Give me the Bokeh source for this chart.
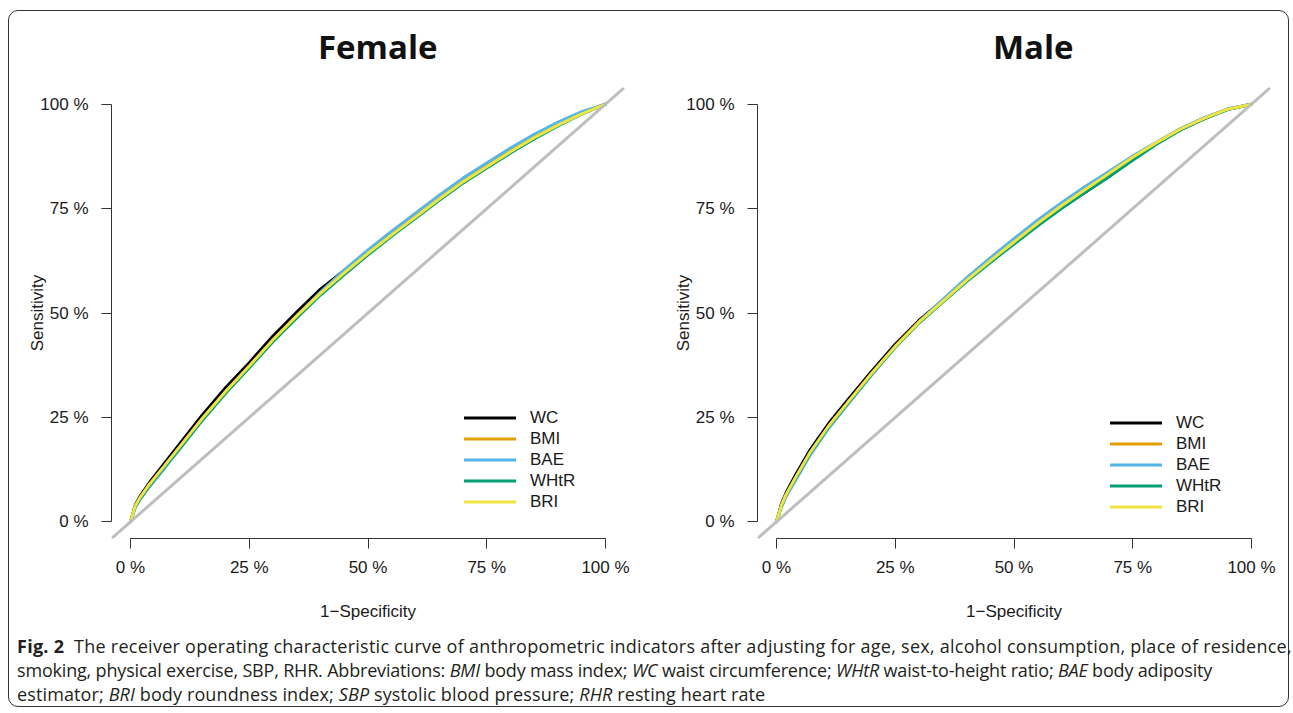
from bokeh.plotting import figure
from bokeh.models import Range1d, FixedTicker, Slope, Legend, LegendItem, Div, Column, Row
from bokeh.embed import file_html
from bokeh.resources import INLINE

PANELS = ["Female", "Male"]
SERIES = ["WC", "BMI", "BAE", "WHtR", "BRI"]
COLORS = ["#000000", "#E69F00", "#56B4E9", "#009E73", "#F0E442"]
TICKS = [0, 25, 50, 75, 100]
TICK_LABELS = ["0 %", "25 %", "50 %", "75 %", "100 %"]
X_LABEL = "1\u2212Specificity"
Y_LABEL = "Sensitivity"

# 1 - specificity (%)
FPR = [0, 1, 2, 4, 7, 11, 15, 20, 25, 30, 35, 40, 45, 50, 55, 60, 65, 70, 75, 80, 85, 90, 95, 100]

# Sensitivity (%), Female
female_WC   = [0, 4.0, 6.1, 9.4, 13.8, 19.6, 25.4, 32.1, 38.1, 44.5, 50.2, 55.7, 60.2, 64.6, 69.1, 73.5, 77.8, 81.8, 85.3, 88.9, 92.3, 95.2, 97.8, 100]
female_BMI  = [0, 3.7, 5.7, 8.9, 13.1, 18.8, 24.5, 31.1, 37.2, 43.5, 49.3, 54.9, 60.0, 64.9, 69.4, 73.7, 78.0, 82.0, 85.6, 89.2, 92.5, 95.4, 98.0, 100]
female_BAE  = [0, 3.4, 5.3, 8.4, 12.6, 18.3, 24.1, 30.8, 37.0, 43.4, 49.3, 55.0, 60.3, 65.1, 69.6, 73.9, 78.2, 82.3, 85.9, 89.5, 92.8, 95.7, 98.2, 100]
female_WHtR = [0, 3.6, 5.5, 8.7, 12.9, 18.5, 24.2, 30.8, 36.9, 43.1, 48.8, 54.3, 59.2, 63.9, 68.4, 72.7, 77.0, 81.1, 84.7, 88.3, 91.7, 94.8, 97.6, 100]
female_BRI  = [0, 3.8, 5.8, 9.0, 13.2, 18.9, 24.6, 31.2, 37.3, 43.6, 49.3, 54.7, 59.6, 64.3, 68.7, 73.0, 77.3, 81.4, 85.0, 88.6, 92.0, 95.0, 97.7, 100]

# Sensitivity (%), Male
male_WC   = [0, 4.1, 6.9, 11.2, 17.1, 23.6, 29.2, 36.0, 42.5, 48.2, 53.0, 58.0, 62.8, 67.5, 71.8, 75.3, 78.9, 82.7, 87.1, 90.6, 93.9, 96.5, 98.8, 100]
male_BMI  = [0, 3.7, 6.4, 10.4, 16.3, 22.8, 28.5, 35.4, 42.0, 47.9, 53.1, 58.2, 63.0, 67.6, 72.0, 76.2, 80.2, 83.8, 87.5, 90.9, 94.1, 96.7, 98.8, 100]
male_BAE  = [0, 3.4, 6.0, 9.9, 15.8, 22.4, 28.1, 35.1, 41.8, 47.8, 53.2, 58.4, 63.2, 67.8, 72.3, 76.4, 80.3, 83.9, 87.6, 90.9, 94.1, 96.7, 98.9, 100]
male_WHtR = [0, 3.7, 6.4, 10.4, 16.3, 22.8, 28.4, 35.3, 41.8, 47.6, 52.6, 57.5, 62.1, 66.5, 70.9, 75.0, 78.9, 82.6, 86.6, 90.4, 93.8, 96.5, 98.7, 100]
male_BRI  = [0, 3.8, 6.5, 10.6, 16.5, 23.0, 28.6, 35.5, 42.0, 47.8, 52.8, 57.8, 62.5, 67.0, 71.5, 75.7, 79.6, 83.4, 87.3, 90.8, 94.0, 96.6, 98.8, 100]

FEMALE = [female_WC, female_BMI, female_BAE, female_WHtR, female_BRI]
MALE = [male_WC, male_BMI, male_BAE, male_WHtR, male_BRI]

CAPTION_LINES = [
    "<b>Fig. 2</b>&nbsp;&nbsp;The receiver operating characteristic curve of anthropometric indicators after adjusting for age, sex, alcohol consumption, place of residence,",
    "smoking, physical exercise, SBP, RHR. Abbreviations: <i>BMI</i> body mass index; <i>WC</i> waist circumference; <i>WHtR</i> waist-to-height ratio; <i>BAE</i> body adiposity",
    "estimator; <i>BRI</i> body roundness index; <i>SBP</i> systolic blood pressure; <i>RHR</i> resting heart rate",
]
CAPTION_SPACING = ["0.26px", "-0.18px", "0.12px"]

TICK_FONT = "Liberation Sans"


def make_panel(name, ys, width, right_border, title_left, legend_y):
    title = Div(text=name, width=width, height=76, margin=(0, 0, 0, 0),
                styles={"font-family": "Open Sans", "font-size": "33px", "font-weight": "bold",
                        "line-height": "33px", "color": "#111111", "white-space": "nowrap",
                        "padding-top": "19px", "padding-left": "%dpx" % title_left})

    p = figure(width=width, height=542, x_range=Range1d(-4, 104), y_range=Range1d(-4, 104),
               output_backend="svg", toolbar_location=None,
               min_border_left=102, min_border_right=right_border,
               min_border_top=0, min_border_bottom=91)
    p.outline_line_color = None
    p.grid.visible = False
    p.background_fill_color = "white"
    p.border_fill_color = "white"

    p.add_layout(Slope(gradient=1, y_intercept=0, line_color="#BEBEBE", line_width=3))

    items = []
    for s, c, y in zip(SERIES, COLORS, ys):
        r = p.line(FPR, y, line_color=c, line_width=3, line_join="round", line_cap="round")
        items.append(LegendItem(label=s, renderers=[r]))

    legend = Legend(items=items, location=(353, legend_y), orientation="vertical",
                    glyph_width=52, glyph_height=21, label_height=21, label_width=50,
                    spacing=0, padding=0, margin=0, label_standoff=14,
                    border_line_alpha=0, background_fill_alpha=0,
                    label_text_font=TICK_FONT, label_text_font_size="17px",
                    label_text_color="#1a1a1a")
    p.add_layout(legend)

    for ax in (p.xaxis[0], p.yaxis[0]):
        ax.ticker = FixedTicker(ticks=TICKS)
        ax.bounds = (0, 100)
        ax.major_label_overrides = {t: l for t, l in zip(TICKS, TICK_LABELS)}
        ax.major_tick_in = 0
        ax.major_tick_out = 10
        ax.minor_tick_line_color = None
        ax.axis_line_color = "#333333"
        ax.major_tick_line_color = "#333333"
        ax.major_label_text_font = TICK_FONT
        ax.major_label_text_font_size = "17px"
        ax.major_label_text_color = "#1a1a1a"
        ax.axis_label_text_font = TICK_FONT
        ax.axis_label_text_font_size = "17px"
        ax.axis_label_text_font_style = "normal"
        ax.axis_label_text_color = "#1a1a1a"

    p.xaxis[0].axis_label = X_LABEL
    p.xaxis[0].major_label_standoff = 9
    p.xaxis[0].axis_label_standoff = 22
    p.yaxis[0].axis_label = Y_LABEL
    p.yaxis[0].major_label_standoff = 13
    p.yaxis[0].axis_label_standoff = -10
    return Column(children=[title, p])


panel1 = make_panel(PANELS[0], FEMALE, 646, 31, 309, 26)
panel2 = make_panel(PANELS[1], MALE, 633, 18, 338, 21)

caption_html = "<br>".join(
    '<span style="letter-spacing:%s">%s</span>' % (ls, line)
    for ls, line in zip(CAPTION_SPACING, CAPTION_LINES)
)
caption = Div(text=caption_html, width=1279, height=77, margin=(0, 0, 0, 0),
              styles={"font-family": "Open Sans", "font-size": "18px", "line-height": "24px",
                      "color": "#231f20", "white-space": "nowrap", "padding-left": "8px",
                      "padding-top": "5px"})

layout = Column(children=[Row(children=[panel1, panel2]), caption], margin=(10, 0, 0, 8),
                styles={"border": "1px solid #333333", "border-radius": "10px",
                        "background-color": "white"})

open("out.html", "w").write(file_html(layout, INLINE))
